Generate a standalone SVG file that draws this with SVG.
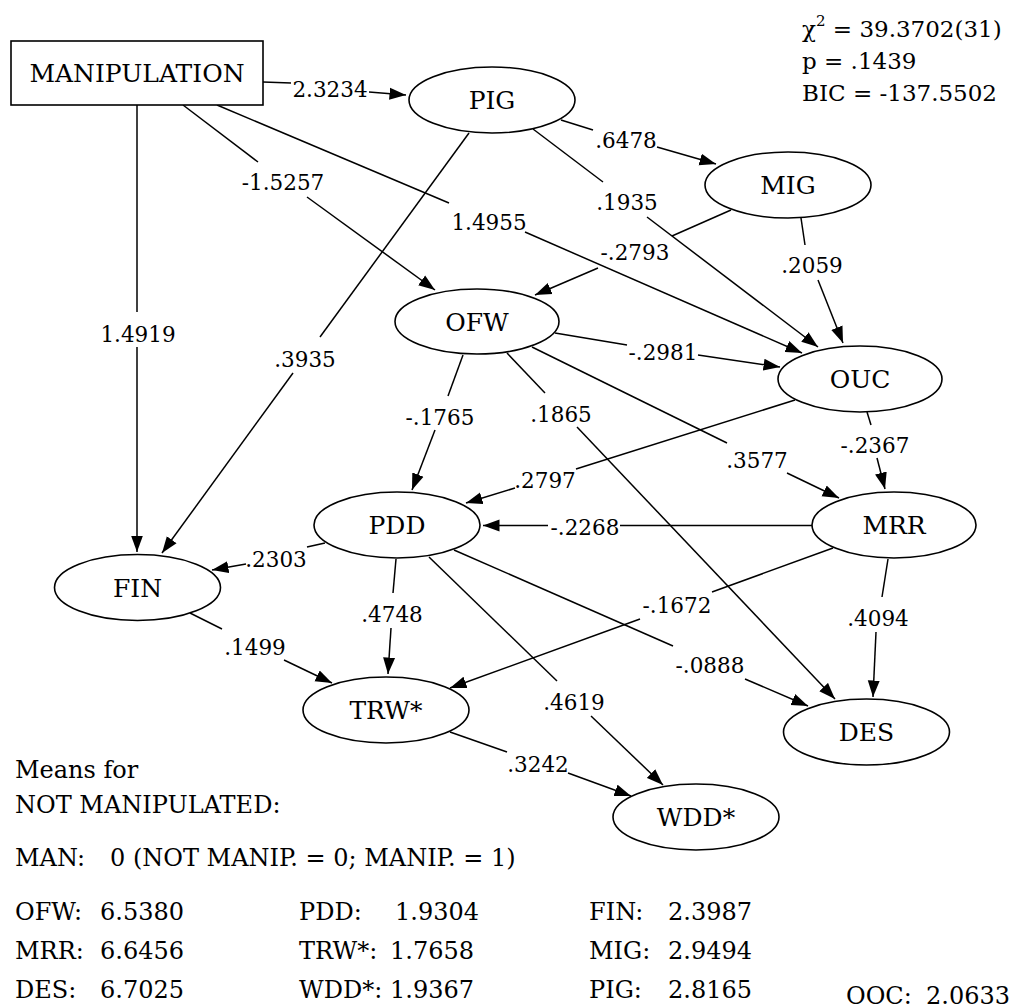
<svg xmlns="http://www.w3.org/2000/svg" width="1013" height="1008" viewBox="0 0 1013 1008">
<style>
text { font-family: 'DejaVu Serif', serif; fill: #000; }
.node ellipse, .node rect { fill: #fff; stroke: #000; stroke-width: 1.6; }
.node text { font-size: 25px; text-anchor: middle; }
#edges line { stroke: #000; stroke-width: 1.5; fill: none; }
#edges text { font-size: 21.5px; text-anchor: middle; }
.info { font-size: 24px; }
.fit { font-size: 23px; }
</style>
<defs>
<marker id="arr" markerUnits="userSpaceOnUse" markerWidth="17" markerHeight="13" viewBox="0 0 17 13" refX="16.5" refY="6.5" orient="auto">
<path d="M0,0.5 L16.5,6.5 L0,12.5 z" fill="#000"/>
</marker>
</defs>

<g id="edges">
<g id="e-man-pig"><line x1="263" y1="82" x2="291" y2="83"/><line x1="369" y1="92" x2="406" y2="95" marker-end="url(#arr)"/><text x="330" y="97">2.3234</text></g>
<g id="e-man-ofw"><line x1="183" y1="105" x2="258" y2="162"/><line x1="307" y1="197" x2="435" y2="290" marker-end="url(#arr)"/><text x="283" y="190">-1.5257</text></g>
<g id="e-man-ouc"><line x1="217" y1="105" x2="449" y2="203"/><line x1="525" y1="232" x2="802" y2="353" marker-end="url(#arr)"/><text x="489" y="230">1.4955</text></g>
<g id="e-man-fin"><line x1="137" y1="105" x2="137" y2="312"/><line x1="137" y1="347" x2="137" y2="552" marker-end="url(#arr)"/><text x="138" y="342">1.4919</text></g>
<g id="e-pig-fin"><line x1="469" y1="133" x2="320" y2="337"/><line x1="293" y1="373" x2="162" y2="553" marker-end="url(#arr)"/><text x="305" y="367">.3935</text></g>
<g id="e-pig-mig"><line x1="561" y1="120" x2="593" y2="130"/><line x1="657" y1="147" x2="716" y2="164" marker-end="url(#arr)"/><text x="626" y="148">.6478</text></g>
<g id="e-pig-ouc"><line x1="533" y1="129" x2="603" y2="182"/><line x1="647" y1="217" x2="818" y2="347" marker-end="url(#arr)"/><text x="627" y="210">.1935</text></g>
<g id="e-mig-ofw"><line x1="731" y1="210" x2="672" y2="236"/><line x1="598" y1="268" x2="535" y2="295" marker-end="url(#arr)"/><text x="635" y="260">-.2793</text></g>
<g id="e-mig-ouc"><line x1="801" y1="218" x2="805" y2="245"/><line x1="818" y1="280" x2="843" y2="343" marker-end="url(#arr)"/><text x="812" y="273">.2059</text></g>
<g id="e-ofw-ouc"><line x1="555" y1="333" x2="627" y2="345"/><line x1="698" y1="355" x2="780" y2="367" marker-end="url(#arr)"/><text x="663" y="360">-.2981</text></g>
<g id="e-ofw-pdd"><line x1="463" y1="355" x2="448" y2="396"/><line x1="435" y1="430" x2="412" y2="490" marker-end="url(#arr)"/><text x="440" y="425">-.1765</text></g>
<g id="e-ofw-des"><line x1="507" y1="353" x2="545" y2="393"/><line x1="577" y1="427" x2="835" y2="699" marker-end="url(#arr)"/><text x="561" y="422">.1865</text></g>
<g id="e-ofw-mrr"><line x1="532" y1="347" x2="727" y2="443"/><line x1="787" y1="473" x2="839" y2="498" marker-end="url(#arr)"/><text x="757" y="468">.3577</text></g>
<g id="e-ouc-pdd"><line x1="795" y1="400" x2="576" y2="469"/><line x1="515" y1="488" x2="466" y2="503" marker-end="url(#arr)"/><text x="545" y="488">.2797</text></g>
<g id="e-ouc-mrr"><line x1="867" y1="412" x2="871" y2="425"/><line x1="877" y1="458" x2="885" y2="489" marker-end="url(#arr)"/><text x="875" y="453">-.2367</text></g>
<g id="e-mrr-pdd"><line x1="812" y1="525.5" x2="620" y2="525.5"/><line x1="548" y1="525.5" x2="483" y2="525.5" marker-end="url(#arr)"/><text x="585" y="535">-.2268</text></g>
<g id="e-pdd-fin"><line x1="325" y1="543" x2="307" y2="547"/><line x1="246" y1="564" x2="212" y2="570" marker-end="url(#arr)"/><text x="276" y="567">.2303</text></g>
<g id="e-pdd-trw"><line x1="396" y1="559" x2="393" y2="593"/><line x1="391" y1="628" x2="388" y2="674" marker-end="url(#arr)"/><text x="392" y="622">.4748</text></g>
<g id="e-pdd-wdd"><line x1="429" y1="557" x2="557" y2="681"/><line x1="591" y1="716" x2="663" y2="785" marker-end="url(#arr)"/><text x="574" y="710">.4619</text></g>
<g id="e-pdd-des"><line x1="454" y1="550" x2="673" y2="646"/><line x1="745" y1="679" x2="808" y2="706" marker-end="url(#arr)"/><text x="710" y="673">-.0888</text></g>
<g id="e-mrr-trw"><line x1="833" y1="548" x2="712" y2="592"/><line x1="640" y1="619" x2="450" y2="688" marker-end="url(#arr)"/><text x="677" y="613">-.1672</text></g>
<g id="e-mrr-des"><line x1="888" y1="559" x2="882" y2="597"/><line x1="876" y1="632" x2="873" y2="697" marker-end="url(#arr)"/><text x="878" y="626">.4094</text></g>
<g id="e-fin-trw"><line x1="190" y1="613" x2="222" y2="629"/><line x1="284" y1="660" x2="332" y2="683" marker-end="url(#arr)"/><text x="255" y="655">.1499</text></g>
<g id="e-trw-wdd"><line x1="450" y1="732" x2="507" y2="752"/><line x1="568" y1="773" x2="631" y2="796" marker-end="url(#arr)"/><text x="538" y="772">.3242</text></g>
</g>

<g id="n-manipulation" class="node"><rect x="11" y="41" width="252" height="64"/><text x="137" y="82">MANIPULATION</text></g>
<g id="n-pig" class="node"><ellipse cx="492" cy="100" rx="83" ry="33"/><text x="492" y="109">PIG</text></g>
<g id="n-mig" class="node"><ellipse cx="788" cy="185" rx="83" ry="33"/><text x="788" y="194">MIG</text></g>
<g id="n-ofw" class="node"><ellipse cx="477" cy="321.5" rx="82" ry="32.5"/><text x="477" y="330.5">OFW</text></g>
<g id="n-ouc" class="node"><ellipse cx="860" cy="379" rx="82" ry="33"/><text x="860" y="388">OUC</text></g>
<g id="n-pdd" class="node"><ellipse cx="397" cy="525" rx="83" ry="33"/><text x="397" y="534">PDD</text></g>
<g id="n-mrr" class="node"><ellipse cx="894" cy="525" rx="82" ry="33"/><text x="894" y="534">MRR</text></g>
<g id="n-fin" class="node"><ellipse cx="137.5" cy="587.5" rx="83" ry="33"/><text x="137.5" y="596.5">FIN</text></g>
<g id="n-trw" class="node"><ellipse cx="386" cy="710" rx="83" ry="33"/><text x="386" y="719">TRW*</text></g>
<g id="n-des" class="node"><ellipse cx="866.5" cy="732" rx="83" ry="33"/><text x="866.5" y="741">DES</text></g>
<g id="n-wdd" class="node"><ellipse cx="696" cy="817" rx="83" ry="33"/><text x="696" y="826">WDD*</text></g>

<g id="fit-stats" class="fit">
<text x="802" y="37">χ<tspan font-size="15" dy="-11">2</tspan><tspan dy="11"> = 39.3702(31)</tspan></text>
<text x="802" y="69">p = .1439</text>
<text x="802" y="101">BIC = -137.5502</text>
</g>

<g id="means" class="info">
<text x="15" y="778">Means for</text>
<text x="15" y="813">NOT MANIPULATED:</text>
<text x="15" y="866">MAN:</text>
<text x="110" y="866">0 (NOT MANIP. = 0; MANIP. = 1)</text>
<text x="15" y="920">OFW:</text><text x="100" y="920">6.5380</text>
<text x="299" y="920">PDD:</text><text x="395" y="920">1.9304</text>
<text x="589" y="920">FIN:</text><text x="668" y="920">2.3987</text>
<text x="15" y="959">MRR:</text><text x="100" y="959">6.6456</text>
<text x="299" y="959">TRW*:</text><text x="390" y="959">1.7658</text>
<text x="589" y="959">MIG:</text><text x="668" y="959">2.9494</text>
<text x="15" y="998">DES:</text><text x="100" y="998">6.7025</text>
<text x="299" y="998">WDD*:</text><text x="390" y="998">1.9367</text>
<text x="589" y="998">PIG:</text><text x="668" y="998">2.8165</text>
<text x="846" y="1004">OOC:</text><text x="926" y="1004">2.0633</text>
</g>
</svg>
